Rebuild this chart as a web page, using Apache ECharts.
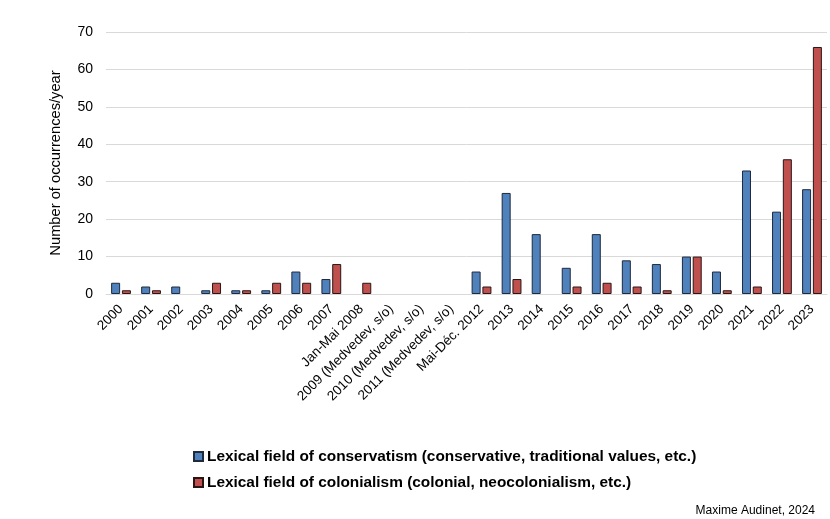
<!DOCTYPE html>
<html>
<head>
<meta charset="utf-8">
<script src="https://cdn.jsdelivr.net/npm/echarts@6/dist/echarts.min.js"></script>
<style>
  html, body { margin: 0; padding: 0; background: #fff; }
  #chart { width: 830px; height: 519px; }
</style>
</head>
<body>
<div id="chart"></div>
<script>
// categories (years / periods)
const categories = [
  '2000', '2001', '2002', '2003', '2004', '2005', '2006', '2007',
  'Jan-Mai 2008', '2009 (Medvedev, s/o)', '2010 (Medvedev, s/o)', '2011 (Medvedev, s/o)',
  'Mai-Déc. 2012', '2013', '2014', '2015', '2016', '2017', '2018', '2019',
  '2020', '2021', '2022', '2023'
];

// lexical field of conservatism
const conservatism = [3, 2, 2, 1, 1, 1, 6, 4, 0, 0, 0, 0, 6, 27, 16, 7, 16, 9, 8, 10, 6, 33, 22, 28];
// lexical field of colonialism
const colonialism = [1, 1, 0, 3, 1, 3, 3, 8, 3, 0, 0, 0, 2, 4, 0, 2, 3, 2, 1, 10, 1, 2, 36, 66];

const seriesNames = [
  'Lexical field of conservatism (conservative, traditional values, etc.)',
  'Lexical field of colonialism (colonial, neocolonialism, etc.)'
];

// zero bars are drawn without their outline, as in the original
const toItems = (arr) => arr.map((v) => (v === 0 ? { value: v, itemStyle: { borderWidth: 0 } } : v));

const chart = echarts.init(document.getElementById('chart'));

const option = {
  backgroundColor: '#fff',
  textStyle: { fontFamily: 'Liberation Sans, Arial, sans-serif' },
  animation: false,
  grid: { left: 106, right: 3, top: 32, bottom: 225 },
  legend: {
    orient: 'vertical',
    left: 188,
    top: 444,
    itemWidth: 9,
    itemHeight: 9,
    itemGap: 11,
    icon: 'rect',
    textStyle: { fontSize: 15.4, fontWeight: 'bold', color: '#000', padding: [0, 0, 0, -1] },
    data: seriesNames
  },
  graphic: [
    {
      type: 'text',
      right: 15,
      bottom: 2,
      style: { text: 'Maxime Audinet, 2024', fontSize: 12, fill: '#000', fontFamily: 'Liberation Sans, Arial, sans-serif' }
    }
  ],
  xAxis: {
    type: 'category',
    data: categories,
    axisLine: { lineStyle: { color: '#d9d9d9', width: 1 } },
    axisTick: { show: false },
    axisLabel: { rotate: 45, color: '#000', fontSize: 13.5, interval: 0, margin: 13 }
  },
  yAxis: {
    type: 'value',
    min: 0,
    max: 70,
    interval: 10,
    name: 'Number of occurrences/year',
    nameLocation: 'middle',
    nameGap: 43,
    nameTextStyle: { fontSize: 14.7, color: '#000' },
    axisLine: { show: false },
    axisTick: { show: false },
    axisLabel: { color: '#000', fontSize: 14, margin: 13 },
    splitLine: { lineStyle: { color: '#d9d9d9', width: 1 } }
  },
  series: [
    {
      name: seriesNames[0],
      type: 'bar',
      data: toItems(conservatism),
      barWidth: 9,
      barGap: '20%',
      itemStyle: { color: '#4f81bd', borderColor: '#1f2a3a', borderWidth: 1 }
    },
    {
      name: seriesNames[1],
      type: 'bar',
      data: toItems(colonialism),
      barWidth: 9,
      itemStyle: { color: '#c0504d', borderColor: '#2a1515', borderWidth: 1 }
    }
  ]
};

chart.setOption(option);
</script>
</body>
</html>
